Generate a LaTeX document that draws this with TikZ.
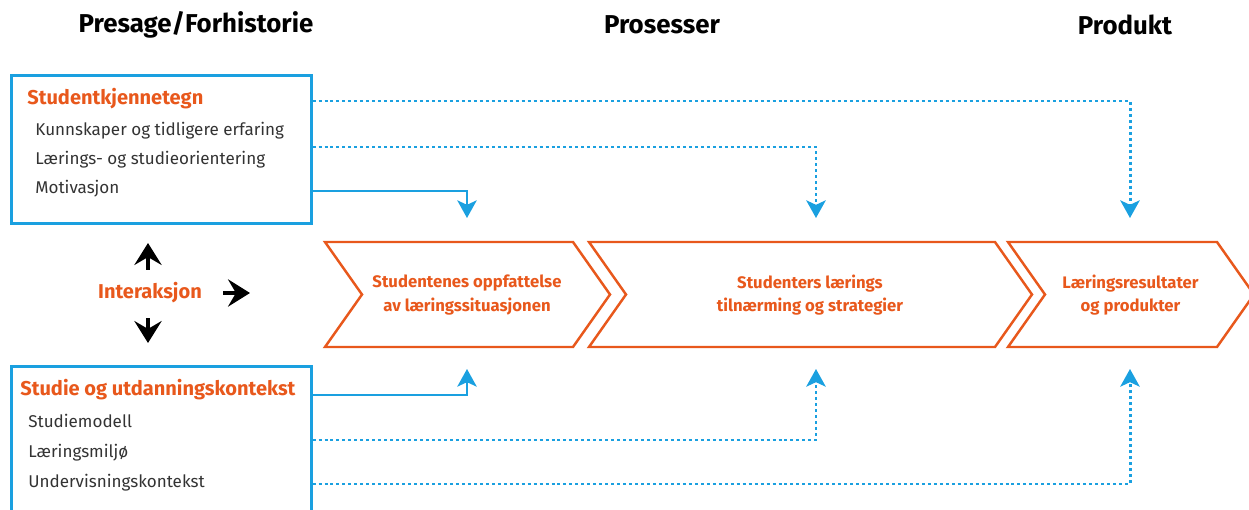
\documentclass[tikz,border=0pt]{standalone}
\usepackage{fontspec}
\setmainfont{Fira Sans}
\usetikzlibrary{arrows.meta}
\definecolor{blaa}{HTML}{1AA0E0}
\definecolor{oransje}{HTML}{E8581C}
\definecolor{tekst}{HTML}{333333}
\begin{document}
\begin{tikzpicture}[x=0.02cm,y=-0.02cm,
  boks/.style={draw=blaa,line width=1.5pt,inner sep=0pt},
  pil/.style={draw=oransje,line width=1.4pt,line join=miter},
  heltrukken/.style={draw=blaa,line width=1.5pt,rounded corners=0pt,
    -{Stealth[length=10pt,width=11pt,inset=2.5pt]}},
  prikket/.style={heltrukken,line width=1.7pt,dash pattern=on 1.7pt off 1.7pt},
  svart/.style={line width=1.9pt,-{Stealth[length=12.5pt,width=15.5pt,inset=4.5pt]}},
  tittel/.style={font=\bfseries\fontsize{14.7}{17}\selectfont},
  overskrift/.style={text=oransje,font=\bfseries\fontsize{11.4}{13}\selectfont,anchor=base west,inner sep=0pt},
  punkt/.style={text=tekst,font=\fontsize{9.7}{12}\selectfont,anchor=base west,inner sep=0pt},
  stegtekst/.style={text=oransje,font=\bfseries\fontsize{9.5}{13.5}\selectfont,align=center}]
\useasboundingbox (0,0) rectangle (1249,510);
% chevron: navn, venstre x, hoeyre x, tekst
\newcommand\steg[4]{
\path[pil] (#2,242) -- (#3,242) -- (#3+37,294.5) -- (#3,347) -- (#2,347) -- (#2+37,294.5) -- cycle;
\node[stegtekst] (#1) at ({(#2+#3)/2+18},295) {#4};
}
% overskrifter
\node[tittel] (presage) at (196,25) {Presage/Forhistorie};
\node[tittel] (prosess) at (662,25) {Prosesser};
\node[tittel] (produkt) at (1125,25) {Produkt};
% bokser
\node[boks,anchor=north west,minimum width=6cm,minimum height=2.96cm] (kjenn) at (10,74) {};
\node[overskrift] (kjennt) at (27,105) {Studentkjennetegn};
\node[punkt] (k1) at (35,136) {Kunnskaper og tidligere erfaring};
\node[punkt] (k2) at (35,165) {Lærings- og studieorientering};
\node[punkt] (k3) at (35,194) {Motivasjon};
\node[boks,anchor=north west,minimum width=6cm,minimum height=3cm] (kont) at (10,365) {};
\node[overskrift] (kontt) at (20,396) {Studie og utdanningskontekst};
\node[punkt] (u1) at (28,427) {Studiemodell};
\node[punkt] (u2) at (28,457) {Læringsmiljø};
\node[punkt] (u3) at (28,487) {Undervisningskontekst};
% prosess-steg
\steg{s1}{325}{573}{Studentenes oppfattelse\\av læringssituasjonen}
\steg{s2}{589}{995}{Studenters lærings\\tilnærming og strategier}
\steg{s3}{1008}{1217}{Læringsresultater\\og produkter}
% interaksjon
\node[text=oransje,font=\bfseries\fontsize{11.4}{13}\selectfont] (inter) at (150,293) {Interaksjon};
\coordinate (opp) at (148,243);
\coordinate (ned) at (148,343);
\coordinate (hoeyre) at (250,293);
\path[draw,svart] (148,270) -- (opp);
\path[draw,svart] (148,318) -- (ned);
\path[draw,svart] (223,293) -- (hoeyre);
% piler ned til stegene
\coordinate (t1) at (467,218);
\coordinate (t2) at (816,218);
\coordinate (t3) at (1130,218);
\coordinate (b1) at (467,369);
\coordinate (b2) at (816,369);
\coordinate (b3) at (1130,369);
\path[prikket] (kjenn.north east) ++(0,27) -| (t3);
\path[prikket] (kjenn.north east) ++(0,73) -| (t2);
\path[heltrukken] (kjenn.north east) ++(0,117) -| (t1);
\path[heltrukken] (kont.north east) ++(0,30) -| (b1);
\path[prikket] (kont.north east) ++(0,75) -| (b2);
\path[prikket] (kont.north east) ++(0,119) -| (b3);
\end{tikzpicture}
\end{document}
